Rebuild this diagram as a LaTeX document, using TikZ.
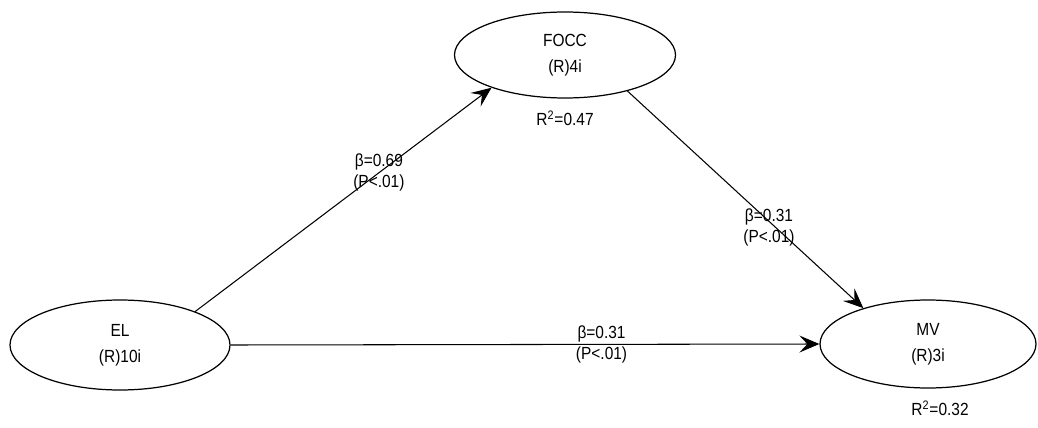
\documentclass[tikz,border=0pt]{standalone}
\usepackage{fontspec}
\setmainfont{Liberation Sans}[FakeStretch=0.88]
\usetikzlibrary{shapes.geometric,arrows.meta}
\tikzset{
  latente/.style={draw,ellipse,line width=0.7pt,minimum width=4.4cm,minimum height=1.8cm,
    inner sep=0pt,align=center,font=\fontsize{10}{15}\selectfont},
  camino/.style={-{Stealth[length=4mm,width=3.4mm,inset=1.6mm]},line width=0.6pt},
  coef/.style={align=center,inner sep=0pt,font=\fontsize{10}{12}\selectfont},
  rcuad/.style={inner sep=0pt,font=\fontsize{10}{12}\selectfont}
}
\begin{document}
\begin{tikzpicture}
    \useasboundingbox (0,0) rectangle (20.76,8.54);
    % Constructos
    \node[latente,minimum width=4.42cm,minimum height=1.72cm] (focc) at (11.30,7.44) {FOCC\\(R)4i};
    \node[latente] (el) at (2.40,1.64) {EL\\(R)10i};
    \node[latente,minimum width=4.32cm,minimum height=1.76cm] (mv) at (18.56,1.66) {MV\\(R)3i};
    % R cuadrado
    \node[rcuad] (r2focc) at (11.30,6.18) {R\textsuperscript{2}=0.47};
    \node[rcuad] (r2mv) at (18.80,0.38) {R\textsuperscript{2}=0.32};
    % Caminos
    \draw[camino] (el.24) -- (focc.204) node[coef,pos=0.62] (b1) {β=0.69\\(P<.01)};
    \draw[camino] (focc.-30) -- (mv.151) node[coef,pos=0.6,yshift=-0.12cm] (b2) {β=0.31\\(P<.01)};
    \draw[camino] (el.east) -- (mv.west) node[coef,pos=0.63] (b3) {β=0.31\\(P<.01)};
  \end{tikzpicture}
\end{document}
